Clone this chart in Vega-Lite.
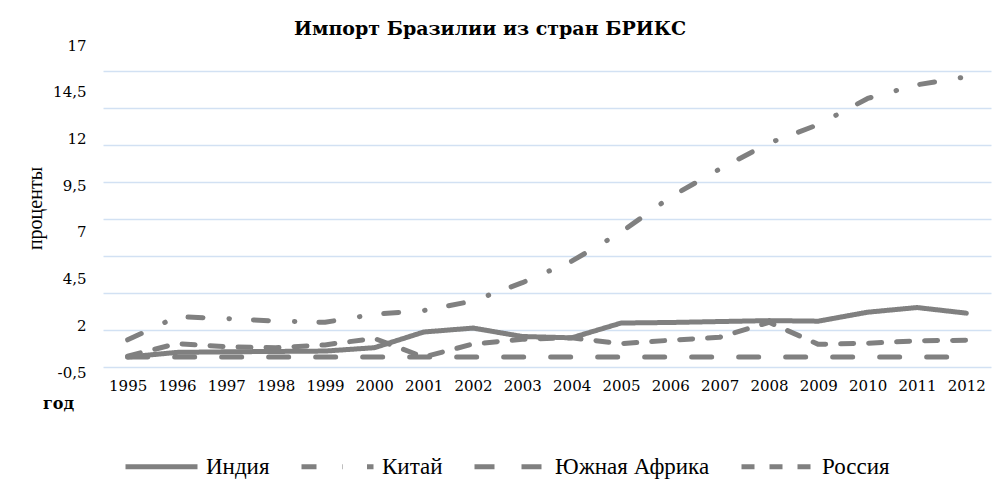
{
  "$schema": "https://vega.github.io/schema/vega-lite/v6.json",
  "width": 888,
  "height": 327,
  "autosize": "none",
  "padding": {"left": 103, "top": 45, "right": 7, "bottom": 125},
  "background": "white",
  "title": {"text": "Импорт Бразилии из стран БРИКС", "font": "DejaVu Serif", "fontSize": 19, "fontWeight": "bold", "color": "#000000", "anchor": "middle", "dx": -57, "offset": -1},
  "config": {"view": {"stroke": null}},
  "data": {"values": [
    {"year": "1995", "country": "Индия", "value": 0.3},
    {"year": "1996", "country": "Индия", "value": 0.55},
    {"year": "1997", "country": "Индия", "value": 0.58},
    {"year": "1998", "country": "Индия", "value": 0.6},
    {"year": "1999", "country": "Индия", "value": 0.62},
    {"year": "2000", "country": "Индия", "value": 0.8},
    {"year": "2001", "country": "Индия", "value": 1.64},
    {"year": "2002", "country": "Индия", "value": 1.85},
    {"year": "2003", "country": "Индия", "value": 1.4},
    {"year": "2004", "country": "Индия", "value": 1.33},
    {"year": "2005", "country": "Индия", "value": 2.12},
    {"year": "2006", "country": "Индия", "value": 2.15},
    {"year": "2007", "country": "Индия", "value": 2.2},
    {"year": "2008", "country": "Индия", "value": 2.25},
    {"year": "2009", "country": "Индия", "value": 2.22},
    {"year": "2010", "country": "Индия", "value": 2.7},
    {"year": "2011", "country": "Индия", "value": 2.95},
    {"year": "2012", "country": "Индия", "value": 2.65},
    {"year": "1995", "country": "Китай", "value": 1.22},
    {"year": "1996", "country": "Китай", "value": 2.46},
    {"year": "1997", "country": "Китай", "value": 2.36},
    {"year": "1998", "country": "Китай", "value": 2.23},
    {"year": "1999", "country": "Китай", "value": 2.16},
    {"year": "2000", "country": "Китай", "value": 2.59},
    {"year": "2001", "country": "Китай", "value": 2.79},
    {"year": "2002", "country": "Китай", "value": 3.3},
    {"year": "2003", "country": "Китай", "value": 4.28},
    {"year": "2004", "country": "Китай", "value": 5.43},
    {"year": "2005", "country": "Китай", "value": 6.98},
    {"year": "2006", "country": "Китай", "value": 8.86},
    {"year": "2007", "country": "Китай", "value": 10.36},
    {"year": "2008", "country": "Китай", "value": 11.75},
    {"year": "2009", "country": "Китай", "value": 12.74},
    {"year": "2010", "country": "Китай", "value": 14.14},
    {"year": "2011", "country": "Китай", "value": 14.87},
    {"year": "2012", "country": "Китай", "value": 15.3},
    {"year": "1995", "country": "Южная Африка", "value": 0.3},
    {"year": "1996", "country": "Южная Африка", "value": 0.3},
    {"year": "1997", "country": "Южная Африка", "value": 0.3},
    {"year": "1998", "country": "Южная Африка", "value": 0.3},
    {"year": "1999", "country": "Южная Африка", "value": 0.3},
    {"year": "2000", "country": "Южная Африка", "value": 0.3},
    {"year": "2001", "country": "Южная Африка", "value": 0.3},
    {"year": "2002", "country": "Южная Африка", "value": 0.3},
    {"year": "2003", "country": "Южная Африка", "value": 0.3},
    {"year": "2004", "country": "Южная Африка", "value": 0.3},
    {"year": "2005", "country": "Южная Африка", "value": 0.3},
    {"year": "2006", "country": "Южная Африка", "value": 0.3},
    {"year": "2007", "country": "Южная Африка", "value": 0.3},
    {"year": "2008", "country": "Южная Африка", "value": 0.3},
    {"year": "2009", "country": "Южная Африка", "value": 0.3},
    {"year": "2010", "country": "Южная Африка", "value": 0.3},
    {"year": "2011", "country": "Южная Африка", "value": 0.3},
    {"year": "2012", "country": "Южная Африка", "value": 0.3},
    {"year": "1995", "country": "Россия", "value": 0.35},
    {"year": "1996", "country": "Россия", "value": 1.02},
    {"year": "1997", "country": "Россия", "value": 0.85},
    {"year": "1998", "country": "Россия", "value": 0.8},
    {"year": "1999", "country": "Россия", "value": 0.95},
    {"year": "2000", "country": "Россия", "value": 1.3},
    {"year": "2001", "country": "Россия", "value": 0.3},
    {"year": "2002", "country": "Россия", "value": 1.0},
    {"year": "2003", "country": "Россия", "value": 1.25},
    {"year": "2004", "country": "Россия", "value": 1.33},
    {"year": "2005", "country": "Россия", "value": 1.02},
    {"year": "2006", "country": "Россия", "value": 1.2},
    {"year": "2007", "country": "Россия", "value": 1.36},
    {"year": "2008", "country": "Россия", "value": 2.16},
    {"year": "2009", "country": "Россия", "value": 0.98},
    {"year": "2010", "country": "Россия", "value": 1.04},
    {"year": "2011", "country": "Россия", "value": 1.17},
    {"year": "2012", "country": "Россия", "value": 1.2}
  ]},
  "layer": [
    {
      "mark": {"type": "rule", "opacity": 0},
      "encoding": {
        "y": {"field": "value", "type": "quantitative",
          "scale": {"domain": [-0.5, 17], "nice": false, "zero": false},
          "axis": {"orient": "left", "values": [-0.23, 1.75, 3.73, 5.71, 7.69, 9.67, 11.65, 13.63, 15.61], "grid": true, "gridColor": "#d2e1f3", "gridWidth": 1.5, "labels": false, "ticks": false, "domain": false, "title": null}
        }
      }
    },
    {
      "mark": {"type": "line", "color": "#808080", "strokeWidth": 5, "strokeCap": "round", "strokeJoin": "round"},
      "encoding": {
        "x": {"field": "year", "type": "ordinal", "scale": {"type": "point", "padding": 0.5},
          "axis": {"labelAngle": 0, "ticks": false, "domain": false, "grid": false, "labelFont": "DejaVu Serif", "labelFontSize": 15, "labelColor": "#000000", "labelPadding": 6,
            "title": "год", "titleFont": "DejaVu Serif", "titleFontSize": 16, "titleFontWeight": "bold", "titleColor": "#000000", "titleX": -45, "titleY": 31, "titleAlign": "center", "titleBaseline": "middle"}
        },
        "y": {"field": "value", "type": "quantitative",
          "scale": {"domain": [-0.5, 17], "nice": false, "zero": false},
          "axis": {"orient": "left", "values": [-0.5, 2, 4.5, 7, 9.5, 12, 14.5, 17], "grid": false, "ticks": false, "domain": false, "labelPadding": 17, "labelFont": "DejaVu Serif", "labelFontSize": 15, "labelColor": "#000000",
            "labelExpr": "replace(datum.value + '', '.', ',')",
            "title": "проценты", "titleFont": "Liberation Serif", "titleFontSize": 20, "titleFontWeight": "normal", "titleColor": "#000000", "titleX": -68, "titleY": 163, "titleAngle": -90, "titleAlign": "center", "titleBaseline": "middle"}
        },
        "strokeDash": {"field": "country", "type": "nominal",
          "scale": {"domain": ["Индия", "Китай", "Южная Африка", "Россия"], "range": [[1, 0], [15, 26, 0.5, 24], [20, 27], [13, 15]]},
          "legend": {"orient": "none", "legendX": 20, "legendY": 383, "direction": "horizontal", "title": null, "symbolType": "stroke", "symbolSize": 5184, "symbolStrokeWidth": 5, "symbolStrokeColor": "#808080", "labelFont": "Liberation Serif", "labelFontSize": 23, "labelColor": "#000000", "labelOffset": 6, "columnPadding": 21,
            "encoding": {"symbols": {"update": {"strokeCap": {"value": "round"}}}}}
        }
      }
    }
  ],
  "resolve": {"axis": {"y": "independent"}}
}
